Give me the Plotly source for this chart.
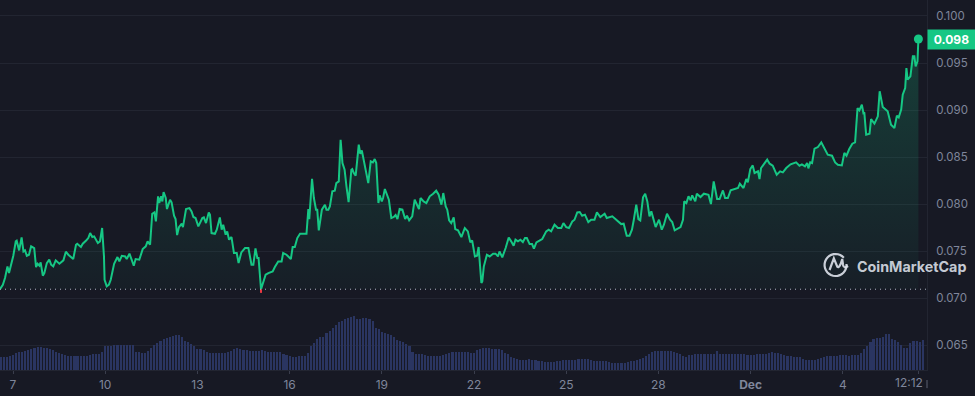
import math
import plotly.graph_objects as go

days = [6.58,6.67,6.74,6.82,6.87,7.01,7.09,7.12,7.20,7.28,7.34,7.39,7.45,7.52,7.59,7.69,7.75,7.80,7.86,7.90,7.97,8.02,8.10,8.18,8.24,8.31,8.39,8.51,8.64,8.72,8.80,8.96,9.05,9.09,9.21,9.27,9.38,9.45,9.51,9.58,9.64,9.69,9.76,9.83,9.90,9.96,9.98,10.05,10.12,10.18,10.29,10.40,10.46,10.54,10.65,10.70,10.79,10.86,10.93,10.99,11.11,11.22,11.32,11.38,11.46,11.53,11.60,11.65,11.72,11.76,11.82,11.86,11.90,11.97,12.01,12.11,12.16,12.24,12.29,12.34,12.40,12.49,12.53,12.63,12.74,12.81,12.87,12.94,13.03,13.16,13.21,13.28,13.37,13.41,13.46,13.57,13.63,13.73,13.79,13.84,13.92,13.97,14.03,14.11,14.19,14.28,14.34,14.43,14.55,14.66,14.76,14.82,14.89,14.95,14.99,15.07,15.14,15.22,15.31,15.45,15.52,15.63,15.74,15.79,15.90,16.04,16.10,16.17,16.25,16.34,16.55,16.61,16.64,16.73,16.79,16.86,16.90,16.95,17.05,17.15,17.20,17.26,
17.31,17.39,17.47,17.52,17.60,17.66,17.72,17.79,17.85,17.92,18.01,18.04,18.09,18.15,18.25,18.30,18.35,18.44,18.56,18.64,18.71,18.77,18.82,18.89,18.93,19.00,19.04,19.10,19.23,19.31,19.39,19.45,19.51,19.58,19.67,19.76,19.82,19.89,19.99,20.07,20.15,20.21,20.26,20.36,20.45,20.56,20.67,20.77,20.85,20.94,21.00,21.08,21.13,21.19,21.26,21.34,21.39,21.48,21.59,21.70,21.80,21.88,21.94,22.03,22.10,22.15,22.24,22.27,22.32,22.42,22.51,22.62,22.70,22.78,22.83,22.92,23.03,23.13,23.21,23.29,23.35,23.43,23.51,23.59,23.66,23.72,23.81,23.89,23.95,24.03,24.13,24.22,24.35,24.43,24.51,24.62,24.73,24.84,24.91,25.00,25.09,25.20,25.27,25.36,25.44,25.52,25.61,25.72,25.81,25.92,26.00,26.11,26.25,26.32,26.50,26.68,26.79,26.87,26.97,27.06,27.14,27.20,27.28,27.35,27.41,27.50,27.57,27.64,
27.71,27.77,27.82,27.91,28.02,28.11,28.18,28.28,28.38,28.45,28.53,28.63,28.72,28.80,28.84,28.91,28.98,29.05,29.10,29.20,29.25,29.37,29.48,29.63,29.71,29.80,29.86,29.91,29.99,30.10,30.17,30.26,30.35,30.48,30.59,30.65,30.77,30.86,30.91,30.99,31.07,31.13,31.24,31.29,31.34,31.54,31.62,31.72,31.85,31.96,32.05,32.16,32.30,32.48,32.59,32.67,32.77,32.84,32.88,32.94,33.00,33.08,33.19,33.30,33.40,33.51,33.65,33.75,33.84,33.97,34.05,34.12,34.21,34.31,34.40,34.48,34.54,34.62,34.67,34.70,34.76,34.87,34.92,35.03,35.14,35.20,35.30,35.46,35.57,35.68,35.76,35.82,35.90,35.95,36.03,36.07,36.11,36.20,36.28,36.33,36.37,36.43,36.46]

prices = [.07096,.07142,.07213,.07337,.07266,.07450,.07603,.07610,.07507,.07645,.07496,.07507,.07450,.07461,.07550,.07532,.07330,.07365,.07344,.07379,.07238,.07266,.07372,.07408,.07355,.07337,.07401,.07365,.07401,.07493,.07461,.07415,.07567,.07578,.07543,.07578,.07613,.07638,.07691,.07649,.07656,.07621,.07585,.07603,.07745,.07443,.07195,.07124,.07142,.07195,.07365,.07436,.07390,.07450,.07443,.07415,.07472,.07408,.07344,.07415,.07408,.07521,.07550,.07603,.07567,.07897,.07911,.07816,.08082,.08011,.08082,.08028,.08128,.08064,.07947,.08046,.08018,.07876,.07840,.07670,.07755,.07791,.07755,.07947,.07957,.07922,.07862,.07851,.07762,.07851,.07858,.07798,.07911,.07887,.07691,.07684,.07727,.07858,.07727,.07780,.07674,.07709,.07621,.07649,.07479,.07479,.07372,.07486,.07532,.07532,.07355,.07355,.07528,.07426,.07426,.07094,.07177,.07248,.07266,.07284,.07330,.07390,.07390,.07479,.07461,.07415,.07543,.07543,.07638,.07684,.07684,.07947,.07840,.08269,.08064,.07940,.07940,.07720,.07940,.07993,.07940,.07940,
.07975,.08135,.08142,.08223,.08241,.08684,.08436,.08365,.08188,.08021,.08365,.08372,.08330,.08301,.08631,.08535,.08571,.08436,.08223,.08454,.08443,.08479,.08436,.08011,.08092,.08028,.08064,.08160,.08046,.07851,.07862,.07883,.07840,.07947,.07940,.07840,.07876,.07826,.07869,.08046,.07993,.07947,.08064,.08028,.08011,.08082,.08110,.08142,.08099,.07993,.08117,.07975,.07940,.07826,.07798,.07858,.07734,.07720,.07649,.07745,.07709,.07592,.07613,.07443,.07450,.07543,.07160,.07177,.07337,.07461,.07443,.07472,.07472,.07443,.07496,.07433,.07532,.07645,.07603,.07557,.07621,.07603,.07621,.07596,.07638,.07638,.07574,.07574,.07525,.07592,.07610,.07628,.07709,.07727,.07709,.07780,.07745,.07745,.07798,.07755,.07745,.07816,.07833,.07911,.07915,.07876,.07887,.07808,.07833,.07833,.07911,.07862,.07897,.07851,.07869,.07816,.07787,.07791,.07663,.07663,.07727,.07833,.07993,.07840,.07826,.08071,.08110,.08028,
.07869,.07922,.07869,.07755,.07833,.07727,.07780,.07897,.07833,.07809,.07720,.07734,.07755,.07833,.08028,.08011,.08082,.08039,.08092,.08028,.08110,.08074,.08110,.08099,.08000,.08241,.08152,.08053,.08053,.08145,.08064,.08064,.08145,.08160,.08170,.08216,.08170,.08266,.08230,.08372,.08411,.08330,.08348,.08266,.08383,.08472,.08429,.08408,.08312,.08348,.08337,.08383,.08422,.08443,.08408,.08422,.08401,.08436,.08379,.08443,.08436,.08589,.08606,.08656,.08596,.08525,.08514,.08443,.08418,.08411,.08543,.08514,.08585,.08642,.08656,.09021,.08996,.09057,.08968,.08975,.08738,.08748,.08904,.08855,.08933,.09199,.09032,.08986,.08844,.08809,.08940,.08922,.09004,.09163,.09234,.09447,.09323,.09358,.09571,.09571,.09465,.09518,.09755]

volumes = [13.3,13.3,13.3,14,15,17.5,18,18.5,19.5,20,21,22.5,23.5,23,22.5,22,21,20,18,17,16,15,14.5,14,14,14,14,14,14,15.5,16,16.5,16.5,18,24,24,24.5,25.5,25.5,25.5,25.5,25.5,25.5,25,18.5,18,17,17,19,22,25,27,29,31,32.5,33.5,34,35,35,33,29.5,28,26.5,24.5,21.5,21,20,18,17.5,17.5,17.5,17,17,17,18.5,19,21,22,21.5,20,20,19.5,19,19,19,20.5,19,18.5,18,18,18,18,16.5,15.5,14,13,13,14,14,14,17,24,27,31,33,33.5,37,39,
42,45,48,49,51,52,53,54.5,51,51,52,52,51.5,49,42,41,38,37,36,35,33,30,29,28,26,24,18,16,16,16,15.5,14.5,14,14,14,14,15,16,17,18,18,18,18.5,18.5,18.5,17.5,17,20,21,22,22.5,22,21.5,21,21,20.5,17,16,13.5,12.5,11,10.5,10.5,10,11,10,10,9.5,9,8,8,8,8,9,9.5,10,10,10,10,10.5,11,11,11,11,10.5,9.5,9,9,9,9,8,7,7,7,7,7,8,9,9,10,11,12,14,16,18,
19.3,19.5,19.5,19.5,19.5,19,18,17.5,16,14,13,15,15.5,16,16,16.2,16.3,16,16,16,19,16.5,16,16,16,16,16,16,16.2,16.2,15,15,15.5,16,16,16,16,17,18,17.5,17,16.5,15,14,13.7,13.5,13,13,11.5,10.5,10,10,10,11,12,13,14,14,14,14.5,15,15,15,14.5,15,15,15,17,21,24,28,31,32.5,32.5,33,36,36,31,30,28,25,22,22.5,27,29,29,28,30]

tick_days = [7,10,13,16,19,22,25,28,31,34,36.46]
tick_text = ["7","10","13","16","19","22","25","28","<b>Dec</b>","4",""]
price_ticks = [.065,.070,.075,.080,.085,.090,.095,.100]
current_label = "0.098"
time_label = "12:12"
low_price = .07094
lowest_price = .07055

GREEN = "#16c784"
BG = "#171924"
GRID = "#222531"
MUTED = "#7f869b"
WM = "rgba(222,226,235,0.9)"
FONT = "Inter"

X0, X1 = 6.577, 36.74
PW, PH = 927.5, 370
bar_days = [6.6 + i * 0.1 for i in range(len(volumes))]

fig = go.Figure()
fig.add_trace(go.Bar(x=bar_days, y=volumes, width=0.068, marker=dict(color="#2a3561", line_width=0),
                     yaxis="y2", hoverinfo="skip", showlegend=False))
fig.add_trace(go.Scatter(x=[days[0], days[-1]], y=[low_price, low_price], mode="lines",
                         line=dict(width=0), hoverinfo="skip", showlegend=False))
fig.add_trace(go.Scatter(x=days, y=prices, mode="lines", fill="tonexty",
                         fillgradient=dict(type="vertical",
                                           colorscale=[[0, "rgba(22,199,132,0.03)"], [1, "rgba(22,199,132,0.22)"]]),
                         line=dict(color=GREEN, width=2), showlegend=False))
fig.add_trace(go.Scatter(x=[15.07, 15.07], y=[low_price, lowest_price], mode="lines",
                         line=dict(color="#ea3943", width=2), hoverinfo="skip", showlegend=False))
fig.add_trace(go.Scatter(x=[days[-1]], y=[prices[-1]], mode="markers",
                         marker=dict(color=GREEN, size=9), hoverinfo="skip", showlegend=False))

lx, ly = 836 / PW, (PH - 265) / PH
ring = [(11 * math.cos(math.radians(a)), 11 * math.sin(math.radians(a))) for a in range(5, -331, -12)]
ring_path = "M " + " L ".join(f"{p:.2f},{q:.2f}" for p, q in ring)
wave_path = "M -6,-5 L -1.7,6.7 L 1.7,-1.7 Q 4,-4 6.7,6 L 7.5,0 Q 8.3,-4 12.5,-1"
logo = [dict(type="path", path=p, xref="paper", yref="paper", xsizemode="pixel", ysizemode="pixel",
             xanchor=lx, yanchor=ly, line=dict(color=WM, width=2.2), fillcolor="rgba(0,0,0,0)", layer="above")
        for p in (ring_path, wave_path)]

fig.update_layout(
    width=975, height=396, autosize=False,
    margin=dict(l=0, r=47.5, t=0, b=26, pad=0),
    paper_bgcolor=BG, plot_bgcolor=BG, bargap=0, barmode="overlay",
    font=dict(family=FONT, color=MUTED, size=12),
    xaxis=dict(range=[X0, X1], tickmode="array", tickvals=tick_days, ticktext=tick_text,
               showgrid=False, zeroline=False, showline=True, linecolor=GRID, linewidth=1,
               ticks="outside", ticklen=3, tickcolor="#3a3e4d", tickwidth=1,
               tickangle=0, tickfont=dict(family=FONT, color=MUTED, size=12), ticklabelstandoff=1),
    yaxis=dict(range=[.06235, .1017], side="right", anchor="x", tickmode="array", tickvals=price_ticks,
               tickformat=".3f", gridcolor=GRID, gridwidth=1, zeroline=False, showline=True,
               linecolor=GRID, linewidth=1, ticks="", ticklabelstandoff=6,
               tickfont=dict(family=FONT, color=MUTED, size=11.5)),
    yaxis2=dict(range=[0, PH], overlaying="y", visible=False, fixedrange=True),
    shapes=[dict(type="line", xref="x", yref="y", x0=X0, x1=X1, y0=low_price, y1=low_price,
                 line=dict(color="#aeb3c3", width=1, dash="1px,4px"), layer="above"),
            dict(type="line", xref="paper", yref="paper", x0=1, x1=1, y0=-0.027, y1=-0.049,
                 line=dict(color="#5c6070", width=1))] + logo,
    annotations=[
        dict(xref="paper", yref="y", x=1, y=.09745, xanchor="left", yanchor="middle", text=f"<b>{current_label}</b>",
             showarrow=False, bgcolor=GREEN, width=47, height=19, font=dict(family=FONT, color="#ffffff", size=12),
             align="center", borderpad=0),
        dict(xref="x", yref="paper", x=36.14, y=-0.035, xanchor="center", yanchor="middle", text=time_label,
             showarrow=False, font=dict(family=FONT, color=MUTED, size=12)),
        dict(xref="paper", yref="paper", x=855 / PW, y=(PH - 266) / PH, xanchor="left", yanchor="middle",
             text="<b>CoinMarketCap</b>", showarrow=False, font=dict(family=FONT, color=WM, size=14.3)),
    ],
)
fig.write_html("out.html", config=dict(displayModeBar=False),
               post_script="document.body.style.margin='0';document.body.style.background='#171924';")
